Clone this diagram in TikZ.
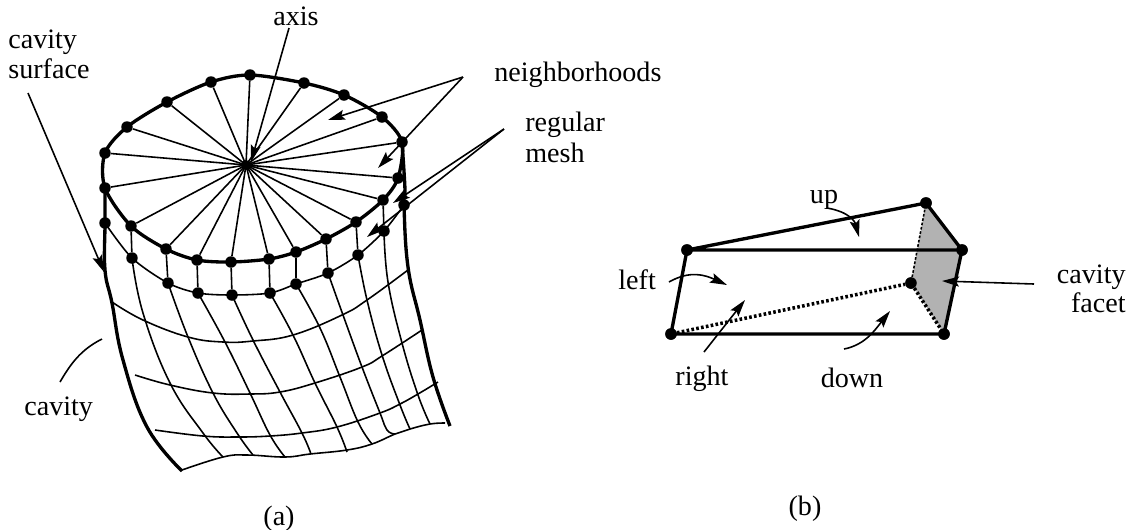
\documentclass[tikz,border=0pt]{standalone}
\usepackage{fontspec}
\setmainfont{Liberation Serif}
\usetikzlibrary{arrows.meta}
\definecolor{FacetGray}{RGB}{178, 178, 178}

\begin{document}
\begin{tikzpicture}[
                    x=0.02cm, y=-0.02cm,
                    dot/.style={circle, fill=black, inner sep=0pt, minimum size=0.23cm},
                    hub/.style={circle, fill=black, inner sep=0pt, minimum size=0.2cm},
                    label/.style={font=\fontsize{16}{17}\selectfont, inner sep=0pt, align=left},
                    thin line/.style={line width=0.9pt},
                    edge line/.style={line width=1.9pt},
                    pointer/.style={line width=0.9pt, -{Stealth[length=0.34cm, width=0.2cm, inset=0.06cm]}}
                ]
                    \useasboundingbox (0,0) rectangle (1130,529);

                    % (a) rim of the top cap
                    \foreach \i/\p in {1/{250,75}, 2/{304,83}, 3/{344,95}, 4/{382,117}, 5/{402,142},
                                       6/{398,178}, 7/{383,200}, 8/{356,222}, 9/{326,239}, 10/{296,252},
                                       11/{269,259}, 12/{231,262}, 13/{197,260}, 14/{166,249}, 15/{131,226},
                                       16/{105,188}, 17/{105,153}, 18/{127,127}, 19/{167,102}, 20/{211,82}}
                        \node[dot] (top\i) at (\p) {};
                    \node[hub] (axishub) at (246,165) {};
                    \foreach \i in {1,...,20}
                        \draw[thin line] (axishub.center) -- (top\i);
                    \draw[edge line] plot[smooth cycle, tension=0.5] coordinates {(top1) (top2) (top3) (top4) (top5) (top6) (top7) (top8) (top9) (top10) (top11) (top12) (top13) (top14) (top15) (top16) (top17) (top18) (top19) (top20)};

                    % (a) second ring of the mesh
                    \foreach \i/\p in {1/{105,223}, 2/{132,258}, 3/{168,283}, 4/{198,293}, 5/{232,295},
                                       6/{270,293}, 7/{296,284}, 8/{328,273}, 9/{358,255}, 10/{384,231}, 11/{404,205}}
                        \node[dot] (ring\i) at (\p) {};
                    \draw[thin line] plot[smooth, tension=0.5] coordinates {(ring1) (ring2) (ring3) (ring4) (ring5) (ring6) (ring7) (ring8) (ring9) (ring10) (ring11)};
                    \foreach \t/\r in {15/2, 14/3, 13/4, 12/5, 11/6, 10/7, 9/8, 8/9, 7/10}
                        \draw[thin line] (top\t) -- (ring\r);

                    % (a) cavity outline
                    \draw[edge line] plot[smooth, tension=0.7] coordinates {(top16) (ring1) (105,270) (112,303) (123,360) (147,427) (182,471)};
                    \draw[edge line] plot[smooth, tension=0.7] coordinates {(top5) (405,190) (ring11) (408,267) (420,320) (433,377) (450,426)};

                    % (a) mesh lines running down
                    \draw[thin line] plot[smooth, tension=0.7] coordinates {(ring2) (143,313) (170,383) (203,433) (223,457)};
                    \draw[thin line] plot[smooth, tension=0.7] coordinates {(ring3) (188,337) (213,393) (237,433) (253,455)};
                    \draw[thin line] plot[smooth, tension=0.7] coordinates {(ring4) (225,342) (250,393) (270,435) (285,457)};
                    \draw[thin line] plot[smooth, tension=0.7] coordinates {(ring5) (253,340) (280,392) (302,433) (311,454)};
                    \draw[thin line] plot[smooth, tension=0.7] coordinates {(ring6) (293,335) (315,383) (337,427) (347,452)};
                    \draw[thin line] plot[smooth, tension=0.7] coordinates {(ring7) (320,328) (340,377) (358,422) (372,444)};
                    \draw[thin line] plot[smooth, tension=0.7] coordinates {(ring8) (343,315) (362,367) (380,413) (387,430) (395,434)};
                    \draw[thin line] plot[smooth, tension=0.7] coordinates {(ring9) (367,300) (382,355) (400,405) (410,429)};
                    \draw[thin line] plot[smooth, tension=0.7] coordinates {(ring10) (388,282) (402,343) (418,395) (430,424)};

                    % (a) mesh lines running across
                    \draw[thin line] plot[smooth, tension=0.7] coordinates {(112,302) (143,320) (188,337) (223,342) (253,341) (293,335) (342,315) (367,300) (408,270)};
                    \draw[thin line] plot[smooth, tension=0.7] coordinates {(135,375) (170,385) (213,393) (250,394) (280,392) (315,383) (362,367) (382,356) (422,330)};
                    \draw[thin line] plot[smooth, tension=0.7] coordinates {(155,430) (203,436) (238,437) (270,436) (302,433) (337,427) (380,413) (400,404) (418,394) (438,382)};
                    \draw[thin line] plot[smooth, tension=0.7] coordinates {(182,470) (223,457) (247,455) (285,457) (310,454) (347,450) (372,444) (395,434) (410,429) (430,424) (445,423)};

                    % (a) labels and their pointers
                    \node[label, anchor=base] (axislabel) at (296,25) {axis};
                    \node[label, anchor=base west] (neighlabel) at (494,81) {neighborhoods};
                    \node[label, anchor=base west] (regularlabel) at (525,131) {regular};
                    \node[label, anchor=base west] (meshlabel) at (525,162) {mesh};
                    \node[label, anchor=base west] (cavitysurfacelabel) at (8,48) {cavity};
                    \node[label, anchor=base west] (surfacelabel) at (8,78) {surface};
                    \node[label, anchor=base west] (cavitylabel) at (24,415) {cavity};
                    \node[label, anchor=base] (captiona) at (279,525) {(a)};

                    \coordinate (neighapex) at (463,77);
                    \coordinate (meshapex) at (504,129);
                    \draw[pointer] (289,28) -- (251,162);
                    \draw[pointer] (neighapex) -- (328,120);
                    \draw[pointer] (neighapex) -- (378,168);
                    \draw[pointer] (meshapex) -- (393,203);
                    \draw[pointer] (meshapex) -- (367,237);
                    \draw[pointer] (28,93) -- (104,272);
                    \draw[thin line] (102,339) .. controls (80,350) and (70,365) .. (60,382);

                    % (b) the cell
                    \node[dot] (celltl) at (687,250) {};
                    \node[dot] (celltop) at (926,203) {};
                    \node[dot] (celltr) at (962,250) {};
                    \node[dot] (cellbr) at (944,334) {};
                    \node[dot] (cellbl) at (671,334) {};
                    \node[dot] (cellback) at (911,283) {};
                    \fill[FacetGray] (celltop.center) -- (celltr.center) -- (cellbr.center) -- (cellback.center) -- cycle;
                    \draw[edge line] (celltl.center) -- (celltop.center) -- (celltr.center) -- (cellbr.center) -- (cellbl.center) -- (celltl.center) -- (celltr.center);
                    \draw[line width=2pt, dash pattern=on 1.5pt off 1.3pt] (cellbl) -- (cellback) -- (cellbr);
                    \draw[line width=0.9pt, dash pattern=on 1.5pt off 1pt] (cellback) -- (celltop);
                    \foreach \n in {celltl, celltop, celltr, cellbr, cellbl, cellback}
                        \node[dot] at (\n) {};

                    % (b) labels and their pointers
                    \node[label, anchor=base] (uplabel) at (824,203) {up};
                    \node[label, anchor=base west] (leftlabel) at (618,289) {left};
                    \node[label, anchor=base] (rightlabel) at (702,385) {right};
                    \node[label, anchor=base] (downlabel) at (852,387) {down};
                    \node[label, anchor=base east] (cavityfacetlabel) at (1126,283) {cavity};
                    \node[label, anchor=base east] (facetlabel) at (1126,312) {facet};
                    \node[label, anchor=base] (captionb) at (805,515) {(b)};

                    \draw[pointer] (827,208) .. controls (850,212) and (855,222) .. (859,237);
                    \draw[pointer] (669,282) .. controls (690,270) and (705,275) .. (727,285);
                    \draw[pointer] (704,352) -- (745,300);
                    \draw[pointer] (844,349) .. controls (865,345) and (875,330) .. (890,311);
                    \draw[pointer] (1034,284) -- (942,281);
                \end{tikzpicture}
\end{document}
